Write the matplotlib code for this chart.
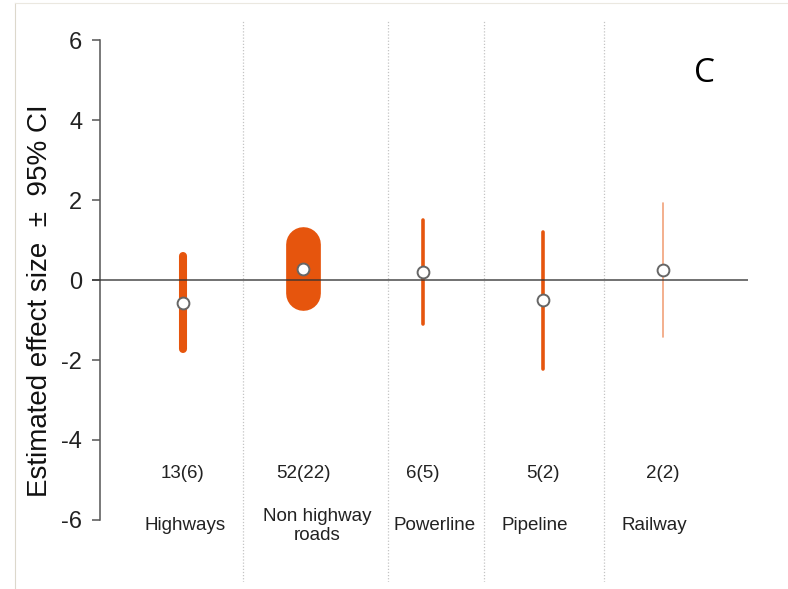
import matplotlib
matplotlib.use('Agg')
import matplotlib.pyplot as plt
from matplotlib.lines import Line2D

categories = ['Highways', 'Non highway\nroads', 'Powerline', 'Pipeline', 'Railway']
counts = ['13(6)', '52(22)', '6(5)', '5(2)', '2(2)']
effect = [-0.57, 0.28, 0.20, -0.51, 0.25]
ci_low = [-1.73, -0.33, -1.10, -2.23, -1.43]
ci_high = [0.60, 0.89, 1.50, 1.20, 1.93]

# styling per category (line width in points, opacity)
bar_lw = [5.8, 25.0, 2.6, 2.6, 1.2]
bar_alpha = [1.0, 1.0, 1.0, 1.0, 0.55]
label_x = [1.02, 2.12, 3.10, 3.93, 4.93]
separators = [1.5, 2.71, 3.51, 4.51]

orange = '#e6550d'
narrow = ['Liberation Sans Narrow', 'Liberation Sans', 'DejaVu Sans']

plt.rcParams['font.family'] = ['Liberation Sans', 'DejaVu Sans']
plt.rcParams['axes.unicode_minus'] = False

fig = plt.figure(figsize=(7.88, 5.89), dpi=100)
ax = fig.add_axes([92 / 788, 1 - 582 / 589, 656 / 788, 562 / 589])
ax.set_xlim(0.242, 5.708)
ax.set_ylim(-7.55, 6.5)

x = list(range(1, len(categories) + 1))

for sx in separators:
    ax.axvline(sx, color='#c4c4c4', lw=0.9, ls=(0, (1, 1.5)), zorder=1)

for i in range(len(x)):
    ax.plot([x[i], x[i]], [ci_low[i], ci_high[i]], color=orange, lw=bar_lw[i],
            alpha=bar_alpha[i], solid_capstyle='round', zorder=2)

ax.axhline(0, color='#333333', lw=1.3, alpha=0.75, zorder=3)

ax.plot(x, effect, 'o', ms=8.5, mfc='white', mec='#666666', mew=1.4, zorder=4)

for i in range(len(x)):
    ax.text(x[i], -4.83, counts[i], ha='center', va='center', fontsize=13.5,
            family=narrow, color='#222222')
    ax.text(label_x[i], -6.15, categories[i], ha='center', va='center', fontsize=13.5,
            family=narrow, color='#222222', linespacing=1.1)

ax.spines['top'].set_visible(False)
ax.spines['right'].set_visible(False)
ax.spines['bottom'].set_visible(False)
ax.spines['left'].set_position(('data', 0.308))
ax.spines['left'].set_bounds(-6, 6)
ax.spines['left'].set_color('#555555')
ax.spines['left'].set_linewidth(1.1)
ax.set_yticks([-6, -4, -2, 0, 2, 4, 6])
ax.tick_params(axis='y', length=5.8, width=1.1, color='#555555', pad=7,
               labelsize=17, labelcolor='#222222')
ax.set_xticks([])
ax.patch.set_visible(False)

fig.text(40 / 788, 1 - 301 / 589, 'Estimated effect size  \u00b1  95% CI', rotation=90,
         ha='center', va='center', fontsize=20, color='#111111')
fig.text(705 / 788, 1 - 74 / 589, 'C', ha='center', va='center', fontsize=24,
         family=['Open Sans', 'DejaVu Sans'], color='black')

# thin frame at the top and left of the panel
fig.add_artist(Line2D([15 / 788, 15 / 788], [0, 1 - 3 / 589], color='#dcd8cc', lw=0.8))
fig.add_artist(Line2D([15 / 788, 1], [1 - 3 / 589, 1 - 3 / 589], color='#ebe8e0', lw=0.8))

fig.savefig('out.png', dpi=100)
